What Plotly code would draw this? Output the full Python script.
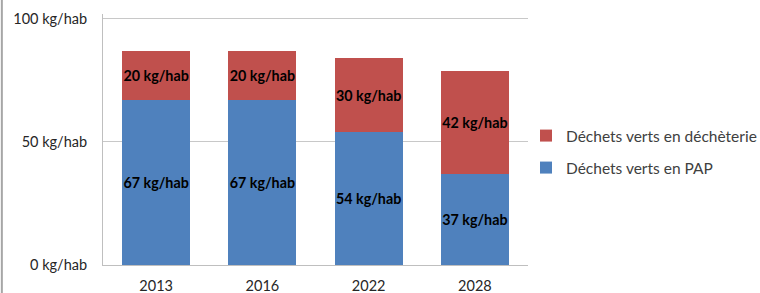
import plotly.graph_objects as go

years = ["2013", "2016", "2022", "2028"]
pap = [67, 67, 54, 37]
decheterie = [20, 20, 30, 42]
y_ticks = [0, 50, 100]
y_ticklabels = ["0 kg/hab", "50 kg/hab", "100 kg/hab"]

FONT = "Lato"
lab_font = dict(family=FONT, size=14.3, color="#000000")
leg_font = dict(family=FONT, size=15.5, color="#404040")

fig = go.Figure()
fig.add_trace(go.Bar(
    x=years, y=pap, name="Déchets verts en PAP",
    marker=dict(color="#4F81BD", line=dict(width=0)),
    text=[f"<b>{v} kg/hab</b>" for v in pap], textposition="inside",
    insidetextanchor="middle", textangle=0, constraintext="none",
    textfont=lab_font, legend="legend2", hoverinfo="skip",
))
fig.add_trace(go.Bar(
    x=years, y=decheterie, name="Déchets verts en déchèterie",
    marker=dict(color="#C0504D", line=dict(width=0)),
    text=[f"<b>{v} kg/hab</b>" for v in decheterie], textposition="inside",
    insidetextanchor="middle", textangle=0, constraintext="none",
    textfont=lab_font, legend="legend", hoverinfo="skip",
))

W, H = 760, 293
# plot area: x 103..528 px, y 0 at 265 px, 100 at 19 px
fig.update_layout(
    width=W, height=H,
    margin=dict(l=103, r=232, t=14, b=28, autoexpand=False),
    paper_bgcolor="white", plot_bgcolor="white",
    barmode="stack", bargap=0.36,
    font=dict(family=FONT, size=14.5, color="#262626"),
    showlegend=True,
    legend=dict(
        xref="container", yref="container",
        x=526 / W, y=1 - 136 / H, xanchor="left", yanchor="middle",
        font=leg_font, bgcolor="rgba(0,0,0,0)", itemwidth=30,
    ),
    legend2=dict(
        xref="container", yref="container",
        x=526 / W, y=1 - 168 / H, xanchor="left", yanchor="middle",
        font=leg_font, bgcolor="rgba(0,0,0,0)", itemwidth=30,
    ),
    xaxis=dict(
        showline=True, linecolor="#BFBFBF", linewidth=1,
        ticks="", ticklabelstandoff=8, automargin=False,
        tickfont=dict(family=FONT, size=14.5, color="#262626"),
        showgrid=False,
    ),
    yaxis=dict(
        range=[0, 102], tickvals=y_ticks, ticktext=y_ticklabels,
        showline=True, linecolor="#BFBFBF", linewidth=1,
        showgrid=True, gridcolor="#C8C8C8", gridwidth=1,
        zeroline=False, ticks="", ticklabelstandoff=12, automargin=False,
        tickfont=dict(family=FONT, size=14.5, color="#262626"),
    ),
    shapes=[dict(type="line", xref="paper", yref="paper",
                 x0=-0.238, x1=-0.238, y0=-0.2, y1=1.2,
                 line=dict(color="#A6A6A6", width=2))],
)

fig.write_html("out.html", config={"displayModeBar": False},
               post_script="document.body.style.margin='0';")
